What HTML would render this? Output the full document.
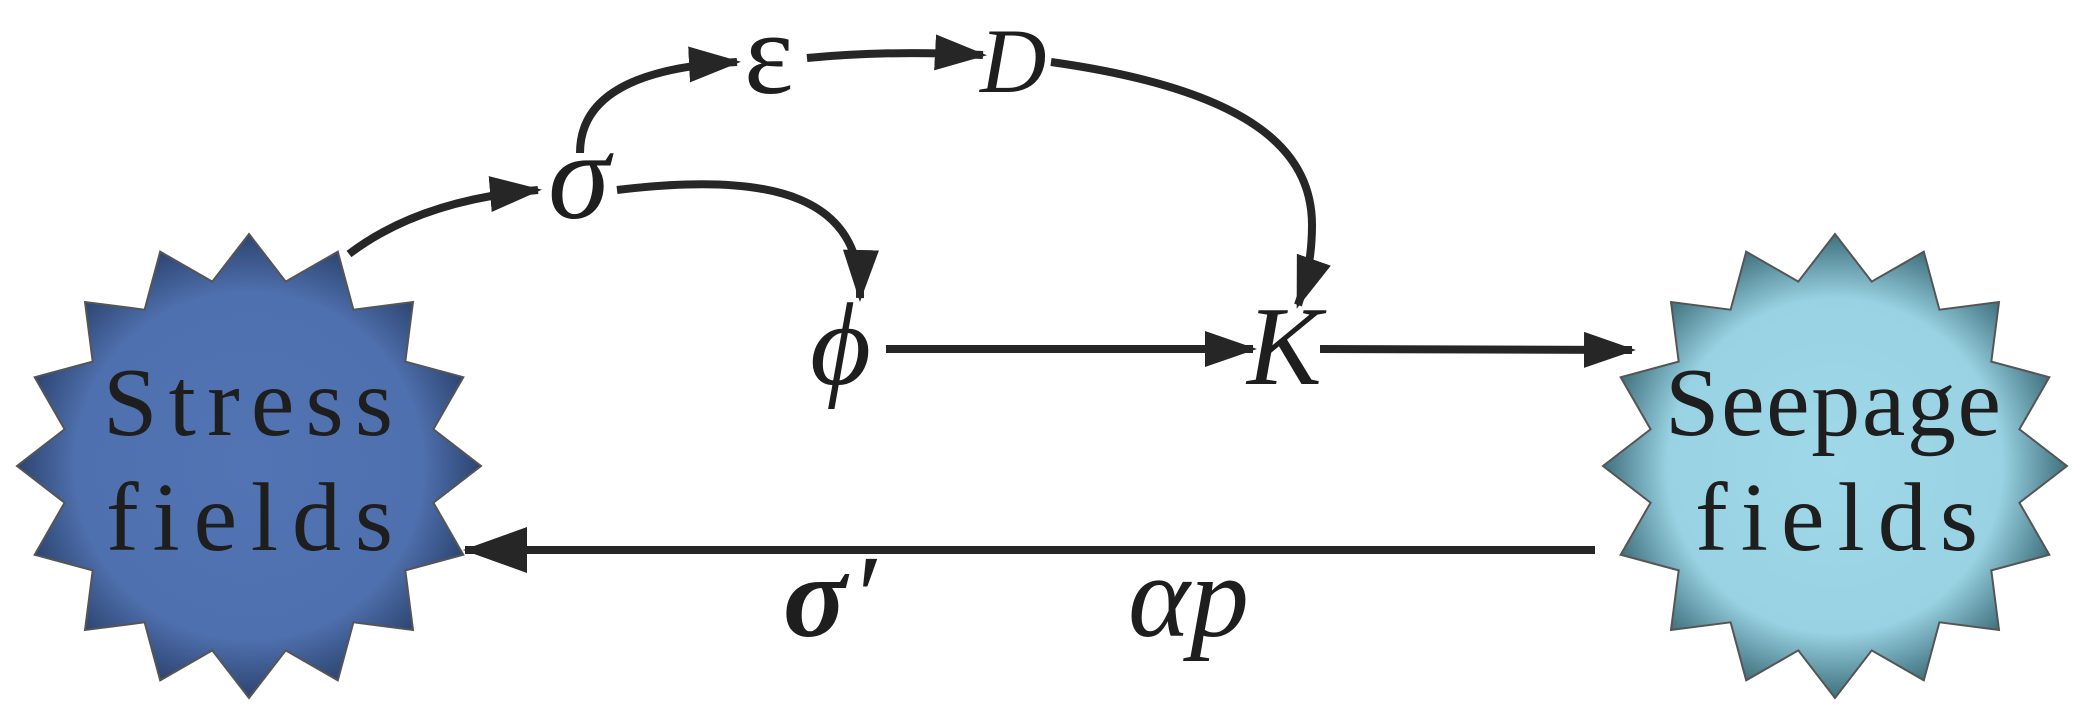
<!DOCTYPE html>
<html><head><meta charset="utf-8"><style>html,body{margin:0;padding:0;background:#fff}svg{display:block}</style></head>
<body>
<svg width="2083" height="725" viewBox="0 0 2083 725" xmlns="http://www.w3.org/2000/svg">
<defs>
<radialGradient id="g1" cx="50%" cy="50%" r="50%">
<stop offset="0" stop-color="#5274b4"/><stop offset="0.75" stop-color="#4f70ae"/><stop offset="1" stop-color="#2c4470"/>
</radialGradient>
<radialGradient id="g2" cx="50%" cy="50%" r="50%">
<stop offset="0" stop-color="#9fd9e9"/><stop offset="0.72" stop-color="#99d3e3"/><stop offset="1" stop-color="#3f6f7c"/>
</radialGradient>
<marker id="ah" markerWidth="52" markerHeight="36" refX="48" refY="18" markerUnits="userSpaceOnUse" orient="auto">
<path d="M0,0 L52,18 L0,36 Z" fill="#262626"/>
</marker>
<marker id="ah2" markerWidth="64" markerHeight="46" refX="62" refY="23" markerUnits="userSpaceOnUse" orient="auto">
<path d="M0,0 L64,23 L0,46 Z" fill="#262626"/>
</marker>
</defs>
<path id="s1" fill="url(#g1)" stroke="#555" stroke-width="2"/>
<path id="s2" fill="url(#g2)" stroke="#555" stroke-width="2"/>
<script>
function star(cx,cy,R,r,n){let d="";for(let i=0;i<2*n;i++){const a=-Math.PI/2+i*Math.PI/n;const rr=i%2?r:R;d+=(i?"L":"M")+(cx+rr*Math.cos(a)).toFixed(1)+","+(cy+rr*Math.sin(a)).toFixed(1);}return d+"Z";}
document.getElementById("s1").setAttribute("d",star(249,466,232,188,16));
document.getElementById("s2").setAttribute("d",star(1835,466,232,188,16));
</script>
<g font-family="Liberation Serif, serif" font-size="98" fill="#1e1e1e">
<text x="103" y="435" textLength="290" lengthAdjust="spacing">Stress</text>
<text x="106" y="550" textLength="287" lengthAdjust="spacing">fields</text>
<text x="1665" y="435" textLength="336" lengthAdjust="spacing">Seepage</text>
<text x="1695" y="550" textLength="283" lengthAdjust="spacing">fields</text>
</g>
<g fill="none" stroke="#262626" stroke-width="8" stroke-linecap="butt">
<path d="M349,254 Q420,200 538,190" marker-end="url(#ah)"/>
<path d="M580,153 Q580,70 737,62" marker-end="url(#ah)"/>
<path d="M807,58 Q890,50 983,55" marker-end="url(#ah)"/>
<path d="M617,190 C780,170 862,200 860,298" marker-end="url(#ah)"/>
<path d="M1051,62 C1250,90 1312,150 1312,225 C1312,260 1305,285 1298,305" marker-end="url(#ah)"/>
<path d="M886,349 L1253,349" marker-end="url(#ah)"/>
<path d="M1320,349 L1632,350" marker-end="url(#ah)"/>
<path d="M1595,550 L465,550" marker-end="url(#ah2)"/>
</g>
<g font-family="Liberation Serif, serif" fill="#1e1e1e">
<text x="548" y="218" font-size="125" font-style="italic">σ</text>
<text x="744" y="93" font-size="118">ε</text>
<text x="980" y="92" font-size="92" font-style="italic">D</text>
<text x="810" y="384" font-size="118" font-style="italic">ϕ</text>
<text x="1247" y="384" font-size="112" font-style="italic">K</text>
<text x="783" y="636" font-size="118" font-style="italic" font-weight="bold">σ</text>
<text x="850" y="636" font-size="118" font-style="italic">′</text>
<text x="1128" y="636" font-size="118" font-style="italic">αp</text>
</g>
</svg>
</body></html>
